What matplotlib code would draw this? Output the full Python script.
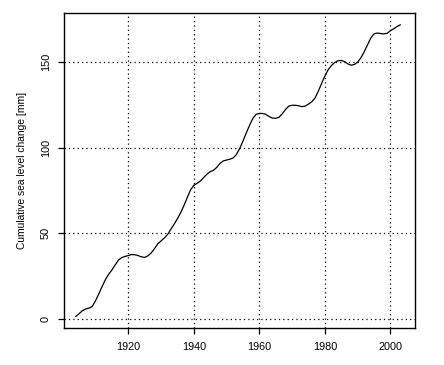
import numpy as np
import matplotlib
matplotlib.use("Agg")
from matplotlib import pyplot as plt

plt.rcParams['font.family'] = ['Liberation Sans', 'DejaVu Sans']

# annual cumulative sea level change (mm)
years = list(range(1904, 2004))
sea_level = [
    1.5, 3.0, 4.8, 5.8, 6.3, 7.2, 10.5, 14.5, 18.8, 22.8,      # 1904-1913
    26.0, 28.5, 31.5, 34.3, 35.8, 36.5, 37.0, 37.6, 37.5, 37.0,  # 1914-1923
    36.3, 35.9, 36.8, 38.5, 41.0, 43.8, 45.5, 47.2, 49.3, 52.3,  # 1924-1933
    55.3, 58.5, 62.0, 66.2, 70.8, 75.3, 78.0, 79.2, 80.5, 82.5,  # 1934-1943
    84.5, 86.0, 86.8, 88.5, 90.8, 92.3, 92.8, 93.3, 94.0, 96.0,  # 1944-1953
    99.5, 103.8, 108.5, 113.0, 117.0, 119.5, 120.0, 120.0, 119.5, 118.2,  # 1954-1963
    117.3, 117.2, 117.8, 119.8, 122.3, 124.3, 124.8, 124.8, 124.5, 124.0,  # 1964-1973
    124.3, 125.5, 126.8, 129.0, 133.0, 137.5, 141.8, 145.5, 148.0, 149.8,  # 1974-1983
    150.8, 151.0, 150.3, 149.0, 148.2, 148.6, 150.0, 152.5, 156.0, 160.0,  # 1984-1993
    164.0, 166.5, 167.0, 166.7, 166.5, 166.8, 168.3, 169.5, 170.7, 171.8,  # 1994-2003
]

x_ticks = [1920, 1940, 1960, 1980, 2000]
y_ticks = [0, 50, 100, 150]

fig = plt.figure(figsize=(4.44, 3.65), dpi=100)
ax = fig.add_axes([0.1441, 0.1014, 0.7905, 0.863])

ax.plot(years, sea_level, color='black', lw=0.9)

ax.set_xlim(1900.4, 2007.5)
ax.set_ylim(-5.3, 178.7)
ax.set_xticks(x_ticks)
ax.set_yticks(y_ticks)
ax.set_yticklabels([str(v) for v in y_ticks], rotation=90, va='center')

# R style grid: dotted lines at the ticks
for xv in x_ticks:
    ax.axvline(xv, color='black', lw=0.9, ls=(0, (1, 2.5)), zorder=0)
for yv in y_ticks:
    ax.axhline(yv, color='black', lw=0.9, ls=(0, (1, 2.5)), zorder=0)

ax.tick_params(direction='out', length=4.3, width=0.9, labelsize=7.8, pad=6, color='black')
ax.tick_params(axis='y', pad=5)
for s in ax.spines.values():
    s.set_linewidth(1.0)

ax.set_ylabel('Cumulative sea level change [mm]', fontsize=7.4, labelpad=10)

fig.savefig('out.png', dpi=100)
